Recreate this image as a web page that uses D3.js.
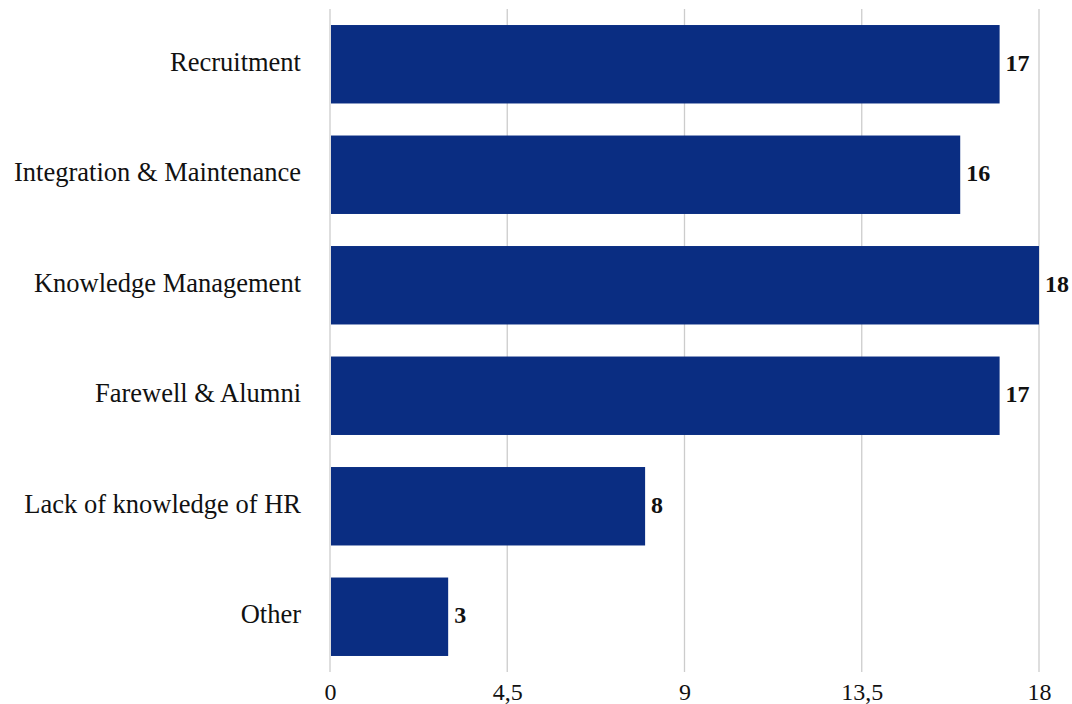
<!DOCTYPE html>
<html>
<head>
<meta charset="utf-8">
<script src="https://cdn.jsdelivr.net/npm/d3@7"></script>
<style>
  html, body { margin: 0; padding: 0; background: #fff; }
  svg { display: block; }
  text { font-family: "Liberation Serif", "DejaVu Serif", serif; fill: #111; }
</style>
</head>
<body>
<svg id="chart" width="1072" height="704"></svg>
<script>
const categories = ["Recruitment", "Integration & Maintenance", "Knowledge Management", "Farewell & Alumni", "Lack of knowledge of HR", "Other"];
const values = [17, 16, 18, 17, 8, 3];
const tickValues = [0, 4.5, 9, 13.5, 18];
const tickLabels = ["0", "4,5", "9", "13,5", "18"];

(function () {
const svg = d3.select("#chart");
const mLeft = 330, mRight = 1039, mTop = 9, mBottom = 672;

const x = d3.scaleLinear().domain([0, 18]).range([mLeft, mRight]);
const y = d3.scaleBand().domain(categories).range([mTop, mBottom]).paddingInner(0.29).paddingOuter(0.145);

// gridlines
svg.append("g").selectAll("line").data(tickValues).join("line")
  .attr("x1", d => x(d)).attr("x2", d => x(d))
  .attr("y1", mTop).attr("y2", mBottom)
  .attr("stroke", "#cccccc").attr("stroke-width", 1.3);

// bars
svg.append("g").selectAll("rect").data(categories).join("rect")
  .attr("x", x(0) + 1)
  .attr("y", d => y(d))
  .attr("width", (d, i) => x(values[i]) - x(0) - 1)
  .attr("height", y.bandwidth())
  .attr("fill", "#0a2d82");

// value labels
svg.append("g").selectAll("text").data(categories).join("text")
  .attr("x", (d, i) => x(values[i]) + 6)
  .attr("y", d => y(d) + y.bandwidth() / 2 - 2)
  .attr("dy", "0.35em")
  .attr("font-size", 24)
  .attr("font-weight", "bold")
  .text((d, i) => values[i]);

// category labels
svg.append("g").selectAll("text").data(categories).join("text")
  .attr("x", mLeft - 29)
  .attr("y", d => y(d) + y.bandwidth() / 2 - 2)
  .attr("dy", "0.33em")
  .attr("text-anchor", "end")
  .attr("font-size", 26.5)
  .text(d => d);

// x-axis tick labels
const xAxis = d3.axisBottom(x).tickValues(tickValues).tickFormat((d, i) => tickLabels[i]).tickSize(0).tickPadding(0);
const gx = svg.append("g").attr("transform", `translate(0, ${mBottom + 28})`).call(xAxis);
gx.select(".domain").remove();
gx.selectAll("text").attr("font-size", 24).attr("font-family", "Liberation Serif, DejaVu Serif, serif").attr("fill", "#111").attr("dy", "0");
})();
</script>
</body>
</html>
